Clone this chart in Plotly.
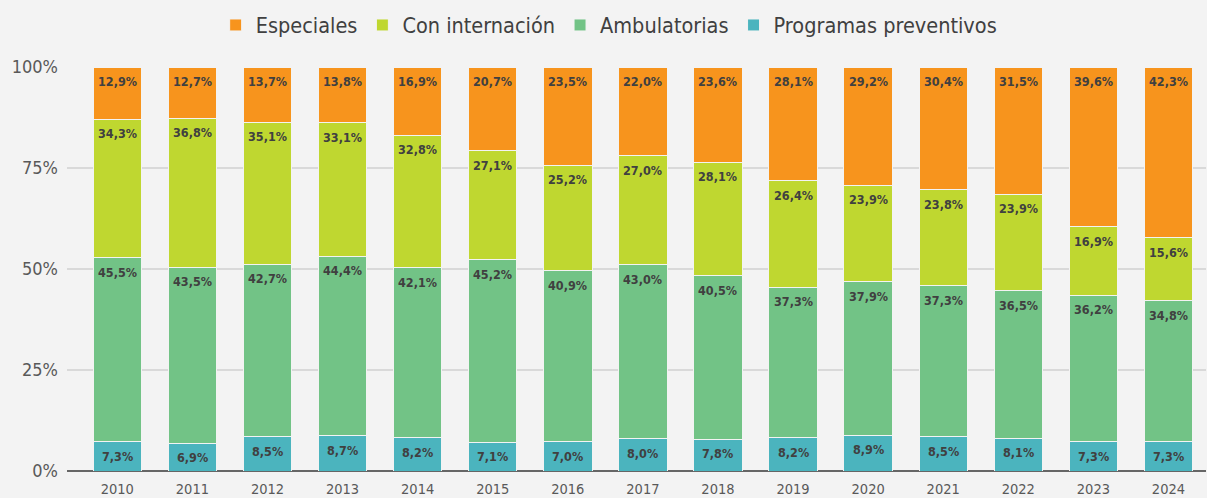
import plotly.graph_objects as go

years = [str(y) for y in range(2010, 2025)]
especiales = [12.9, 12.7, 13.7, 13.8, 16.9, 20.7, 23.5, 22.0, 23.6, 28.1, 29.2, 30.4, 31.5, 39.6, 42.3]
con_internacion = [34.3, 36.8, 35.1, 33.1, 32.8, 27.1, 25.2, 27.0, 28.1, 26.4, 23.9, 23.8, 23.9, 16.9, 15.6]
ambulatorias = [45.5, 43.5, 42.7, 44.4, 42.1, 45.2, 40.9, 43.0, 40.5, 37.3, 37.9, 37.3, 36.5, 36.2, 34.8]
preventivos = [7.3, 6.9, 8.5, 8.7, 8.2, 7.1, 7.0, 8.0, 7.8, 8.2, 8.9, 8.5, 8.1, 7.3, 7.3]
y_ticks = [0, 25, 50, 75, 100]

series = [
    ("Programas preventivos", preventivos, "#4BB4BE"),
    ("Ambulatorias", ambulatorias, "#72C386"),
    ("Con internación", con_internacion, "#BFD730"),
    ("Especiales", especiales, "#F7941D"),
]

FONT = "DejaVu Sans Condensed, Liberation Sans, sans-serif"
fig = go.Figure()
for name, vals, col in series:
    fig.add_trace(go.Bar(
        x=years, y=vals, name=name,
        marker=dict(color=col, line=dict(color="#f3f3f3", width=1)),
        hoverinfo="skip",
    ))

# value labels near the top of each (normalized) segment
totals = [sum(s[1][i] for s in series) for i in range(len(years))]
cum = [0.0] * len(years)
for name, vals, col in series:
    for i, v in enumerate(vals):
        cum[i] += v
        top = min(round(cum[i] / totals[i] * 100, 6), 100.0)
        fig.add_annotation(
            x=i, y=top, xref="x", yref="y", yanchor="middle", yshift=-14.5,
            text="<b>" + f"{v:.1f}".replace(".", ",") + "%</b>",
            showarrow=False,
            font=dict(family=FONT, size=12.5, color="#404040"),
        )

fig.update_layout(
    barmode="stack",
    barnorm="percent",
    bargap=0.355,
    width=1207, height=498,
    paper_bgcolor="#f3f3f3", plot_bgcolor="#f3f3f3",
    margin=dict(l=67, r=1, t=67, b=27),
    font=dict(family=FONT, color="#595959"),
    legend=dict(orientation="h", x=0.476, xanchor="center", y=1.104, yanchor="middle",
                traceorder="reversed", font=dict(family=FONT, size=21.5, color="#404040"),
                itemwidth=30),
)
fig.update_xaxes(type="category", range=[-0.67, 14.5], showgrid=False, showline=False,
                 tickfont=dict(family=FONT, size=14.5, color="#595959"), ticks="",
                 ticklabelstandoff=7)
fig.update_yaxes(range=[0, 100], tickvals=y_ticks, ticktext=[f"{v}%" for v in y_ticks],
                 showgrid=True, gridcolor="#d9d9d9", gridwidth=1.5,
                 zeroline=True, zerolinecolor="#666666", zerolinewidth=1.5,
                 tickfont=dict(family=FONT, size=18, color="#595959"), ticks="",
                 ticklabelstandoff=8)

fig.write_html("out.html", config={"displayModeBar": False},
               post_script="document.body.style.margin='0';")
